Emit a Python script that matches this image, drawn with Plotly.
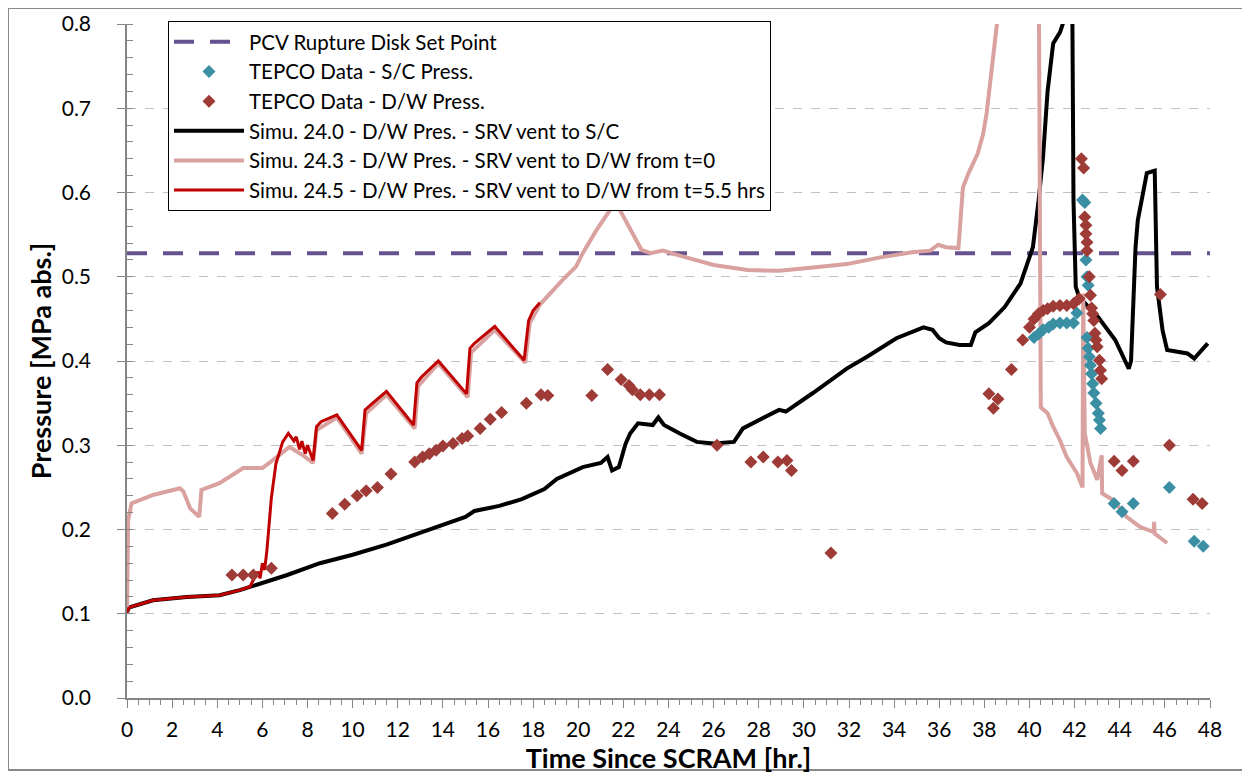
import plotly.graph_objects as go

# time [hr] and pressure [MPa abs.]
t_setpoint = [0, 48]
p_setpoint = [0.528, 0.528]

t_sim240 = [0, 0.05, 0.15, 0.5, 1.15, 2.65, 4.1, 5.0, 5.5, 7.1, 8.55, 10.0, 11.5, 13.0,
            14.3, 15.0, 15.4, 16.5, 17.5, 18.5, 19.05, 20.2, 21.0, 21.3, 21.5, 21.8,
            22.1, 22.3, 22.65, 23.3, 23.55, 23.8, 24.5, 25.25, 26.0, 26.9, 27.3, 28.2,
            28.9, 29.2, 30.4, 31.9, 32.8, 34.1, 35.3, 35.7, 36.0, 36.3, 36.9, 37.4,
            37.6, 38.2, 38.9, 39.6, 40.15, 40.4, 40.6, 40.8, 41.05, 41.35, 41.6, 41.75,
            41.9, 41.95, 42.0, 42.05, 42.2, 43.05, 43.8, 44.4, 44.5, 44.7, 44.8, 45.2,
            45.55, 45.65, 45.9, 46.1, 47.0, 47.3, 47.9]
p_sim240 = [0.101, 0.106, 0.108, 0.111, 0.116, 0.12, 0.122, 0.128, 0.132, 0.146, 0.16,
            0.17, 0.182, 0.196, 0.208, 0.215, 0.222, 0.228, 0.236, 0.248, 0.26, 0.274,
            0.279, 0.286, 0.27, 0.274, 0.302, 0.314, 0.326, 0.324, 0.333, 0.324, 0.314,
            0.304, 0.302, 0.304, 0.32, 0.333, 0.342, 0.34, 0.362, 0.391, 0.405, 0.427,
            0.44, 0.437, 0.427, 0.422, 0.419, 0.419, 0.434, 0.445, 0.464, 0.492, 0.535,
            0.59, 0.642, 0.72, 0.777, 0.79, 0.81, 0.83, 0.81, 0.59, 0.528, 0.488, 0.476,
            0.452, 0.425, 0.391, 0.40, 0.535, 0.567, 0.623, 0.626, 0.488, 0.436, 0.413,
            0.409, 0.403, 0.421]

t_sim243 = [0, 0.05, 0.2, 1.15, 2.35, 2.5, 2.8, 3.2, 3.3, 4.1, 5.15, 6.0, 6.6, 7.2, 7.8,
            8.25, 8.4, 9.3, 10.4, 10.6, 11.5, 12.75, 12.9, 13.8, 15.1, 15.25, 16.3,
            17.65, 17.85, 18.3, 19.3, 19.9, 20.2, 20.8, 21.5, 21.7, 21.85, 22.4, 22.8,
            23.2, 23.75, 24.5, 26.0, 27.5, 28.9, 30.4, 31.9, 33.4, 34.8, 35.6, 35.95,
            36.3, 36.85, 37.05, 37.3, 37.7, 37.95, 38.1, 38.25, 38.4, 38.5, 38.6, 38.8,
            40.3, 40.42, 40.5, 40.8, 41.05, 41.35, 41.65, 42.1, 42.35, 42.38, 42.45,
            42.7, 43.0, 43.2, 43.22, 43.7, 44.3, 44.9, 45.5, 45.52, 45.55, 46.1]
p_sim243 = [0.101, 0.211, 0.231, 0.241, 0.249, 0.245, 0.225, 0.215, 0.247, 0.255, 0.273,
            0.273, 0.285, 0.298, 0.288, 0.279, 0.318, 0.333, 0.29, 0.338, 0.36, 0.32,
            0.37, 0.397, 0.357, 0.41, 0.437, 0.398, 0.445, 0.467, 0.496, 0.512, 0.528,
            0.555, 0.583, 0.587, 0.579, 0.552, 0.532, 0.528, 0.531, 0.525, 0.514, 0.508,
            0.507, 0.511, 0.515, 0.523, 0.529, 0.531, 0.538, 0.535, 0.534, 0.606, 0.623,
            0.646, 0.67, 0.694, 0.73, 0.757, 0.781, 0.81, 0.9, 0.9, 0.81, 0.345, 0.338,
            0.322, 0.306, 0.286, 0.267, 0.25, 0.48, 0.314, 0.279, 0.259, 0.288, 0.243,
            0.235, 0.215, 0.203, 0.197, 0.209, 0.195, 0.184]

t_sim245 = [0, 0.05, 0.15, 0.5, 1.15, 2.65, 4.1, 5.0, 5.45, 5.6, 5.8, 5.9, 6.0, 6.1, 6.2,
            6.4, 6.6, 6.9, 7.15, 7.4, 7.5, 7.65, 7.75, 7.9, 8.0, 8.25, 8.4, 8.6, 9.3,
            10.4, 10.55, 10.8, 11.5, 12.7, 12.85, 13.05, 13.8, 15.05, 15.2, 15.4, 16.3,
            17.6, 17.8, 18.0, 18.3]
p_sim245 = [0.101, 0.106, 0.108, 0.111, 0.116, 0.12, 0.122, 0.128, 0.132, 0.14, 0.15,
            0.142, 0.16, 0.152, 0.175, 0.238, 0.278, 0.304, 0.314, 0.305, 0.31, 0.295,
            0.305, 0.29, 0.3, 0.282, 0.322, 0.328, 0.336, 0.294, 0.342, 0.348, 0.364,
            0.324, 0.374, 0.381, 0.40, 0.361, 0.415, 0.421, 0.441, 0.401, 0.448, 0.46,
            0.469]

t_dw = [4.65, 5.15, 5.6, 6.4, 9.1, 9.65, 10.2, 10.6, 11.1, 11.7, 12.75, 13.1, 13.4, 13.7,
        14.0, 14.45, 14.85, 15.1, 15.65, 16.1, 16.6, 17.7, 18.35, 18.65, 20.6, 21.3,
        21.9, 22.25, 22.4, 22.75, 23.15, 23.6, 26.15, 27.65, 28.2, 28.85, 29.25, 29.45,
        31.2, 38.2, 38.4, 38.6, 39.2, 39.7, 40.0, 40.2, 40.4, 40.6, 40.8, 41.05, 41.35,
        41.65, 41.95, 42.2, 42.3, 42.4, 42.45, 42.5, 42.5, 42.55, 42.55, 42.65, 42.7,
        42.75, 42.8, 42.85, 42.9, 42.95, 43.0, 43.1, 43.15, 43.2, 43.75, 44.1, 44.6,
        45.8, 46.2, 47.25, 47.65]
p_dw = [0.146, 0.146, 0.146, 0.154, 0.219, 0.23, 0.24, 0.246, 0.25, 0.266, 0.28, 0.286,
        0.29, 0.294, 0.299, 0.302, 0.308, 0.311, 0.32, 0.331, 0.339, 0.35, 0.36, 0.359,
        0.359, 0.39, 0.378, 0.371, 0.366, 0.36, 0.36, 0.36, 0.30, 0.28, 0.286, 0.28,
        0.282, 0.27, 0.172, 0.361, 0.344, 0.355, 0.39, 0.425, 0.44, 0.45, 0.456, 0.46,
        0.462, 0.465, 0.466, 0.466, 0.468, 0.474, 0.64, 0.629, 0.571, 0.561, 0.551,
        0.541, 0.531, 0.50, 0.478, 0.463, 0.456, 0.448, 0.433, 0.425, 0.417, 0.401,
        0.389, 0.379, 0.281, 0.27, 0.281, 0.479, 0.30, 0.236, 0.231]

t_sc = [40.2, 40.4, 40.6, 40.85, 41.05, 41.35, 41.65, 41.95, 42.1, 42.35, 42.45, 42.5,
        42.55, 42.6, 42.55, 42.6, 42.65, 42.7, 42.75, 42.8, 42.85, 42.95, 43.05, 43.1,
        43.15, 43.75, 44.1, 44.6, 46.2, 47.3, 47.7]
p_sc = [0.428, 0.432, 0.437, 0.44, 0.444, 0.445, 0.445, 0.445, 0.457, 0.591, 0.588, 0.52,
        0.50, 0.49, 0.428, 0.415, 0.405, 0.395, 0.385, 0.373, 0.362, 0.35, 0.338, 0.33,
        0.32, 0.231, 0.221, 0.231, 0.25, 0.186, 0.18]

FONT = "Lato"

fig = go.Figure()

fig.add_trace(go.Scatter(x=t_setpoint, y=p_setpoint, mode="lines", legendrank=1,
                         name="PCV Rupture Disk Set Point",
                         line=dict(color="#65528E", width=4, dash="20px,16px")))
fig.add_trace(go.Scatter(x=t_sim240, y=p_sim240, mode="lines", legendrank=4,
                         name="Simu. 24.0 - D/W Pres. - SRV vent to S/C",
                         line=dict(color="#000000", width=4)))
fig.add_trace(go.Scatter(x=t_sim243, y=p_sim243, mode="lines", legendrank=5,
                         name="Simu. 24.3 - D/W Pres. - SRV vent to D/W from t=0",
                         line=dict(color="#D9A19F", width=4)))
fig.add_trace(go.Scatter(x=t_sim245, y=p_sim245, mode="lines", legendrank=6,
                         name="Simu. 24.5 - D/W Pres. - SRV vent to D/W from t=5.5 hrs",
                         line=dict(color="#C00000", width=3)))
fig.add_trace(go.Scatter(x=t_sc, y=p_sc, mode="markers", legendrank=2,
                         name="TEPCO Data - S/C Press.",
                         marker=dict(symbol="diamond", size=10, color="#3A8FA3")))
fig.add_trace(go.Scatter(x=t_dw, y=p_dw, mode="markers", legendrank=3,
                         name="TEPCO Data - D/W Press.",
                         marker=dict(symbol="diamond", size=10, color="#9E3B37")))

# the page puts the figure 8px in from the corner
L, R, T, B = 119, 48, 16, 86
W, H = 1250, 776
pw, ph = W - L - R, H - T - B

fig.update_layout(
    width=W, height=H,
    margin=dict(l=L, r=R, t=T, b=B),
    paper_bgcolor="white", plot_bgcolor="white",
    font=dict(family=FONT, size=21, color="#000000"),
    showlegend=True,
    legend=dict(x=(160 - L) / pw, y=(T + ph - 13) / ph, xanchor="left", yanchor="top",
                bgcolor="white", bordercolor="#000000", borderwidth=1,
                font=dict(family=FONT, size=20.5), itemwidth=70, tracegroupgap=0),
    xaxis=dict(range=[0, 48], dtick=2, showgrid=False, zeroline=False, automargin=False,
               showline=True, linecolor="#868686", linewidth=1.5,
               ticks="outside", ticklen=8, tickcolor="#868686", ticklabelstandoff=4,
               minor=dict(dtick=0.5, ticks="outside", ticklen=5, tickcolor="#868686"),
               title=dict(text="<b>Time Since SCRAM [hr.]</b>", standoff=4,
                          font=dict(family=FONT, size=27))),
    yaxis=dict(range=[0, 0.8], dtick=0.1, tickformat=".1f", zeroline=False,
               automargin=False,
               showgrid=True, gridcolor="#C0C0C0", griddash="dash", gridwidth=1,
               showline=True, linecolor="#868686", linewidth=1.5,
               ticks="outside", ticklen=8, tickcolor="#868686", ticklabelstandoff=22,
               minor=dict(dtick=0.02, ticks="inside", ticklen=6, tickcolor="#868686",
                          showgrid=False),
               title=dict(text="<b>Pressure [MPa abs.]</b>", standoff=2,
                          font=dict(family=FONT, size=27))),
)

# grey frame round the whole chart
fig.add_shape(type="rect", xref="paper", yref="paper",
              x0=(0 - L) / pw, x1=(1235 - L) / pw,
              y0=-(762 - (T + ph)) / ph, y1=(T + ph) / ph,
              line=dict(color="#898989", width=2), fillcolor="rgba(0,0,0,0)", layer="below")

fig.write_html("out.html")
